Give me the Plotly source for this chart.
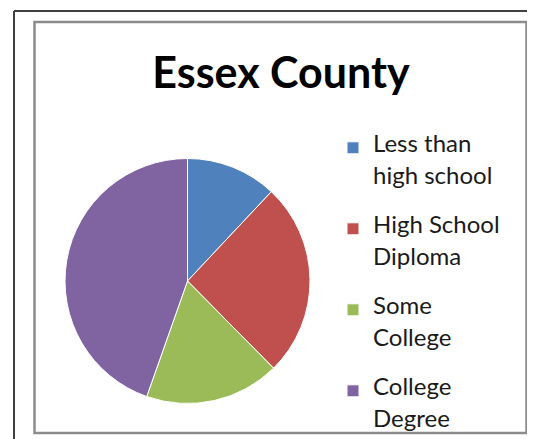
import plotly.graph_objects as go

categories = ["Less than high school", "High School Diploma", "Some College", "College Degree"]
legend_lines = [["Less than", "high school"], ["High School", "Diploma"], ["Some", "College"], ["College", "Degree"]]
values = [12.0, 25.6, 17.8, 44.6]
colors = ["#4F81BD", "#C0504D", "#9BBB59", "#8064A2"]

W, H = 535, 439
OFF = 8  # page body margin offset in the browser
FONT = "Lato"
BIG = 24  # visible legend text size


def px(x):
    return (x - OFF) / W


def py(y):
    return 1 - (y - OFF) / H


def legend_label(lines):
    sp = '<span style="font-size:%dpx">%s</span>'
    return "<br>".join([sp % (BIG, lines[0]), "", sp % (BIG, lines[1]), "", " "])


fig = go.Figure()
fig.add_trace(go.Pie(
    labels=[legend_label(l) for l in legend_lines],
    values=values,
    sort=False,
    direction="clockwise",
    rotation=0,
    textinfo="none",
    hoverinfo="skip",
    marker=dict(colors=colors, line=dict(color="white", width=1)),
    domain=dict(x=[px(187.5 - 122.5), px(187.5 + 122.5)],
                y=[py(281 + 122.5), py(281 - 122.5)]),
))

shapes = [
    # outer dark frame (left and top edges)
    dict(type="line", xref="paper", yref="paper", x0=px(14), x1=px(14), y0=0, y1=py(11),
         line=dict(color="#404040", width=2)),
    dict(type="line", xref="paper", yref="paper", x0=px(14), x1=1, y0=py(11), y1=py(11),
         line=dict(color="#404040", width=2)),
    # inner gray chart border
    dict(type="rect", xref="paper", yref="paper", x0=px(34.5), x1=px(526.5), y0=py(433), y1=py(22),
         line=dict(color="#8C8C8C", width=2.5)),
]

fig.update_layout(
    width=W, height=H,
    margin=dict(l=0, r=0, t=0, b=0, autoexpand=False),
    paper_bgcolor="white",
    plot_bgcolor="white",
    font=dict(family=FONT, color="#1a1a1a"),
    title=dict(text="<b>Essex County</b>", x=px(281), xanchor="center", y=py(73), yanchor="middle",
               font=dict(family=FONT, size=43, color="black")),
    showlegend=True,
    legend=dict(x=px(333), xanchor="left", y=py(133.5), yanchor="top",
                font=dict(family=FONT, size=12, color="#1a1a1a"),
                valign="top", traceorder="normal", bgcolor="rgba(0,0,0,0)"),
    shapes=shapes,
)

fig.write_html("out.html")
